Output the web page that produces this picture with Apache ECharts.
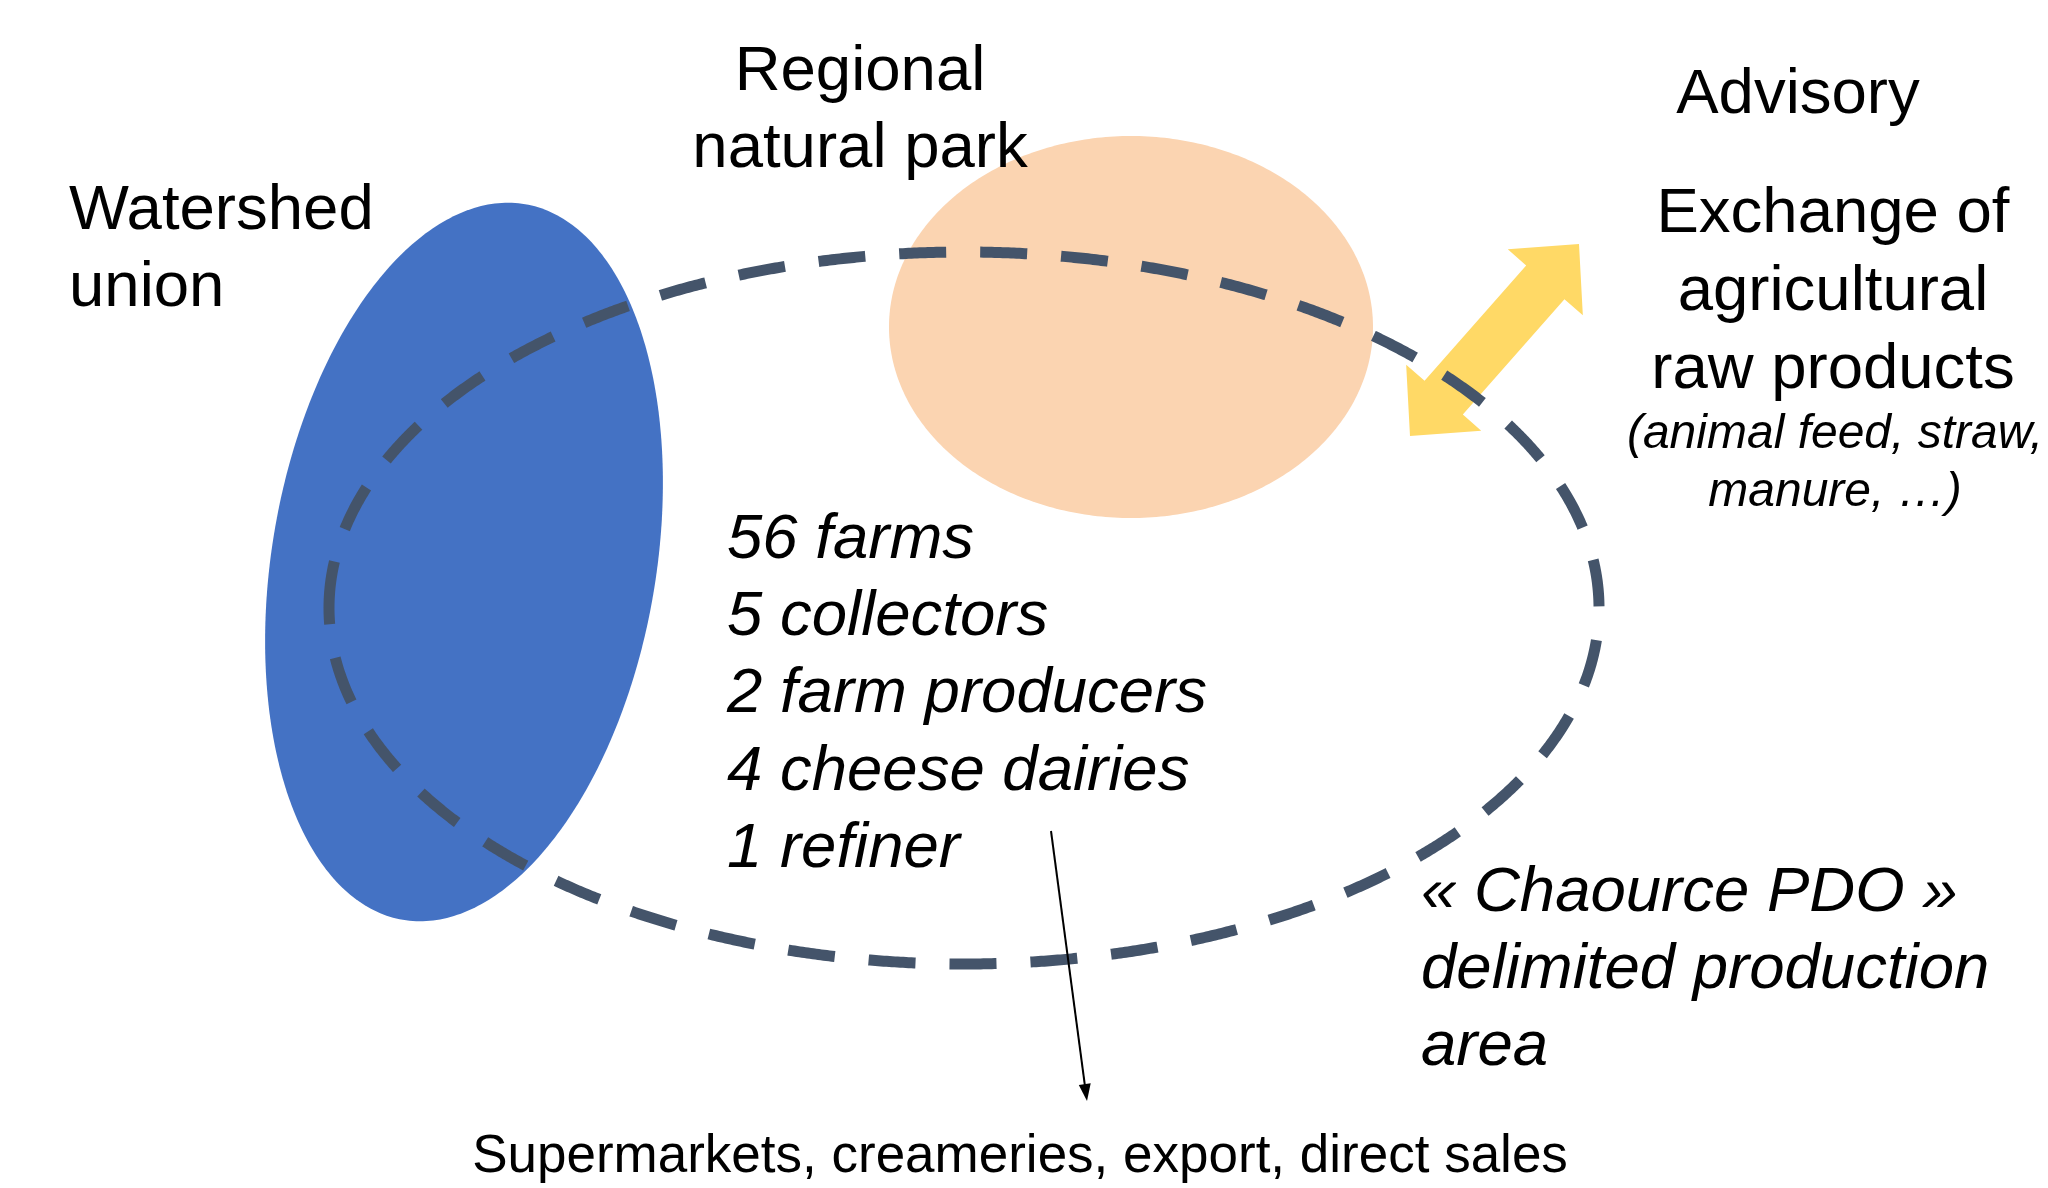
<!DOCTYPE html>
<html>
<head>
<meta charset="utf-8">
<script src="https://cdn.jsdelivr.net/npm/echarts@6/dist/echarts.min.js"></script>
<style>
  html, body { margin: 0; padding: 0; background: #fff; }
  #chart { width: 2048px; height: 1188px; }
</style>
</head>
<body>
<div id="chart"></div>
<script>
// picture units: x to the right, y downwards (0..2048 x 0..1188)
var areaNames = ['Watershed union', 'Regional natural park'];
var areaCx = [464, 1131];
var areaCy = [562, 327];
var areaRx = [192, 242];
var areaRy = [363, 191];
var areaTilt = [9.7, 0];

var pdoCentre = [964, 608];
var pdoRadii = [635, 356];

var exchangeArrow = [[1410, 436], [1579, 244]];
var salesArrow = [[1051, 831], [1087, 1101]];

var labelTexts = [
  'Watershed\nunion',
  'Regional\nnatural park',
  'Advisory',
  'Exchange of\nagricultural\nraw products',
  '(animal feed, straw,\nmanure, \u2026)',
  '56 farms\n5 collectors\n2 farm producers\n4 cheese dairies\n1 refiner',
  '\u00ab Chaource PDO \u00bb\ndelimited production\narea',
  'Supermarkets, creameries, export, direct sales'
];
var labelX = [69, 860, 1798, 1833, 1835, 727, 1421, 1020];
var labelY = [233, 94, 117, 236, 451, 562, 915, 1176];

// text layout / style, kept apart from the data
var labelLayout = [
  { size: 63.5, step: 77, align: 'left', italic: false },
  { size: 63.5, step: 77, align: 'center', italic: false },
  { size: 63.5, step: 77, align: 'center', italic: false },
  { size: 63.5, step: 78, align: 'center', italic: false },
  { size: 48, step: 58, align: 'center', italic: true },
  { size: 63.5, step: 77.3, align: 'left', italic: true },
  { size: 63.5, step: 77, align: 'left', italic: true },
  { size: 53, step: 60, align: 'center', italic: false }
];
var areaColors = ['#4472C4', '#FBD4B1'];

function ellipsePoints(api, cx, cy, rx, ry, tiltDeg, n) {
  var th = tiltDeg * Math.PI / 180, pts = [];
  for (var k = 0; k <= n; k++) {
    // start at the left end and run clockwise, like an Office ellipse
    var t = Math.PI + 2 * Math.PI * k / n;
    var x = rx * Math.cos(t), y = ry * Math.sin(t);
    pts.push(api.coord([cx + x * Math.cos(th) - y * Math.sin(th),
                        cy + x * Math.sin(th) + y * Math.cos(th)]));
  }
  return pts;
}

function arrowShape(api, a, b, shaft, headLen, headW, both) {
  var dx = b[0] - a[0], dy = b[1] - a[1], len = Math.sqrt(dx * dx + dy * dy);
  var ux = dx / len, uy = dy / len, nx = -uy, ny = ux;
  function pt(p, along, side) {
    return api.coord([p[0] + ux * along + nx * side, p[1] + uy * along + ny * side]);
  }
  if (both) {
    return [
      pt(a, 0, 0), pt(a, headLen, headW / 2), pt(a, headLen, shaft / 2),
      pt(b, -headLen, shaft / 2), pt(b, -headLen, headW / 2), pt(b, 0, 0),
      pt(b, -headLen, -headW / 2), pt(b, -headLen, -shaft / 2),
      pt(a, headLen, -shaft / 2), pt(a, headLen, -headW / 2)
    ];
  }
  return [pt(b, 0, 0), pt(b, -headLen, headW / 2), pt(b, -headLen, -headW / 2)];
}

var areaData = areaNames.map(function (name, i) {
  return { name: name, value: [areaCx[i], areaCy[i], areaRx[i], areaRy[i], areaTilt[i]] };
});
var labelData = labelTexts.map(function (t, i) { return [labelX[i], labelY[i], i]; });

var chart = echarts.init(document.getElementById('chart'));
var option = {
  backgroundColor: '#ffffff',
  animation: false,
  grid: { left: 0, right: 0, top: 0, bottom: 0 },
  xAxis: { type: 'value', min: 0, max: 2048, show: false },
  yAxis: { type: 'value', min: 0, max: 1188, inverse: true, show: false },
  series: [
    {
      name: 'areas',
      type: 'custom',
      clip: false,
      data: areaData,
      renderItem: function (params, api) {
        return {
          type: 'polygon',
          shape: { points: ellipsePoints(api, api.value(0), api.value(1), api.value(2), api.value(3), api.value(4), 360) },
          style: { fill: areaColors[params.dataIndex], stroke: null }
        };
      }
    },
    {
      name: 'exchange',
      type: 'custom',
      clip: false,
      data: [[exchangeArrow[0][0], exchangeArrow[0][1]]],
      renderItem: function (params, api) {
        return {
          type: 'polygon',
          shape: { points: arrowShape(api, exchangeArrow[0], exchangeArrow[1], 51, 51, 100, true) },
          style: { fill: '#FFD966', stroke: null }
        };
      }
    },
    {
      name: 'Chaource PDO area',
      type: 'custom',
      clip: false,
      data: [[pdoCentre[0], pdoCentre[1], pdoRadii[0], pdoRadii[1]]],
      renderItem: function (params, api) {
        return {
          type: 'polyline',
          shape: { points: ellipsePoints(api, api.value(0), api.value(1), api.value(2), api.value(3), 0, 1440) },
          style: { stroke: '#44546A', lineWidth: 11, lineDash: [47, 34], lineDashOffset: 0, fill: null }
        };
      }
    },
    {
      name: 'sales',
      type: 'custom',
      clip: false,
      data: [[salesArrow[0][0], salesArrow[0][1]]],
      renderItem: function (params, api) {
        var p = api.coord(salesArrow[0]);
        var q = api.coord([salesArrow[1][0] - 1.9, salesArrow[1][1] - 14]);
        return {
          type: 'group',
          children: [
            {
              type: 'line',
              shape: { x1: p[0], y1: p[1], x2: q[0], y2: q[1] },
              style: { stroke: '#000', lineWidth: 2 }
            },
            {
              type: 'polygon',
              shape: { points: arrowShape(api, salesArrow[0], salesArrow[1], 2, 17, 12, false) },
              style: { fill: '#000' }
            }
          ]
        };
      }
    },
    {
      name: 'labels',
      type: 'custom',
      clip: false,
      data: labelData,
      renderItem: function (params, api) {
        var i = api.value(2), lay = labelLayout[i];
        var lines = labelTexts[i].split('\n');
        return {
          type: 'group',
          children: lines.map(function (line, k) {
            var p = api.coord([api.value(0), api.value(1) + k * lay.step]);
            return {
              type: 'text',
              style: {
                text: line,
                x: p[0],
                y: p[1] - 0.3465 * lay.size,
                fontFamily: 'Liberation Sans',
                fontSize: lay.size,
                fontStyle: lay.italic ? 'italic' : 'normal',
                fill: '#000',
                align: lay.align,
                verticalAlign: 'middle'
              }
            };
          })
        };
      }
    }
  ]
};
chart.setOption(option);
window.addEventListener('resize', chart.resize);
</script>
</body>
</html>
